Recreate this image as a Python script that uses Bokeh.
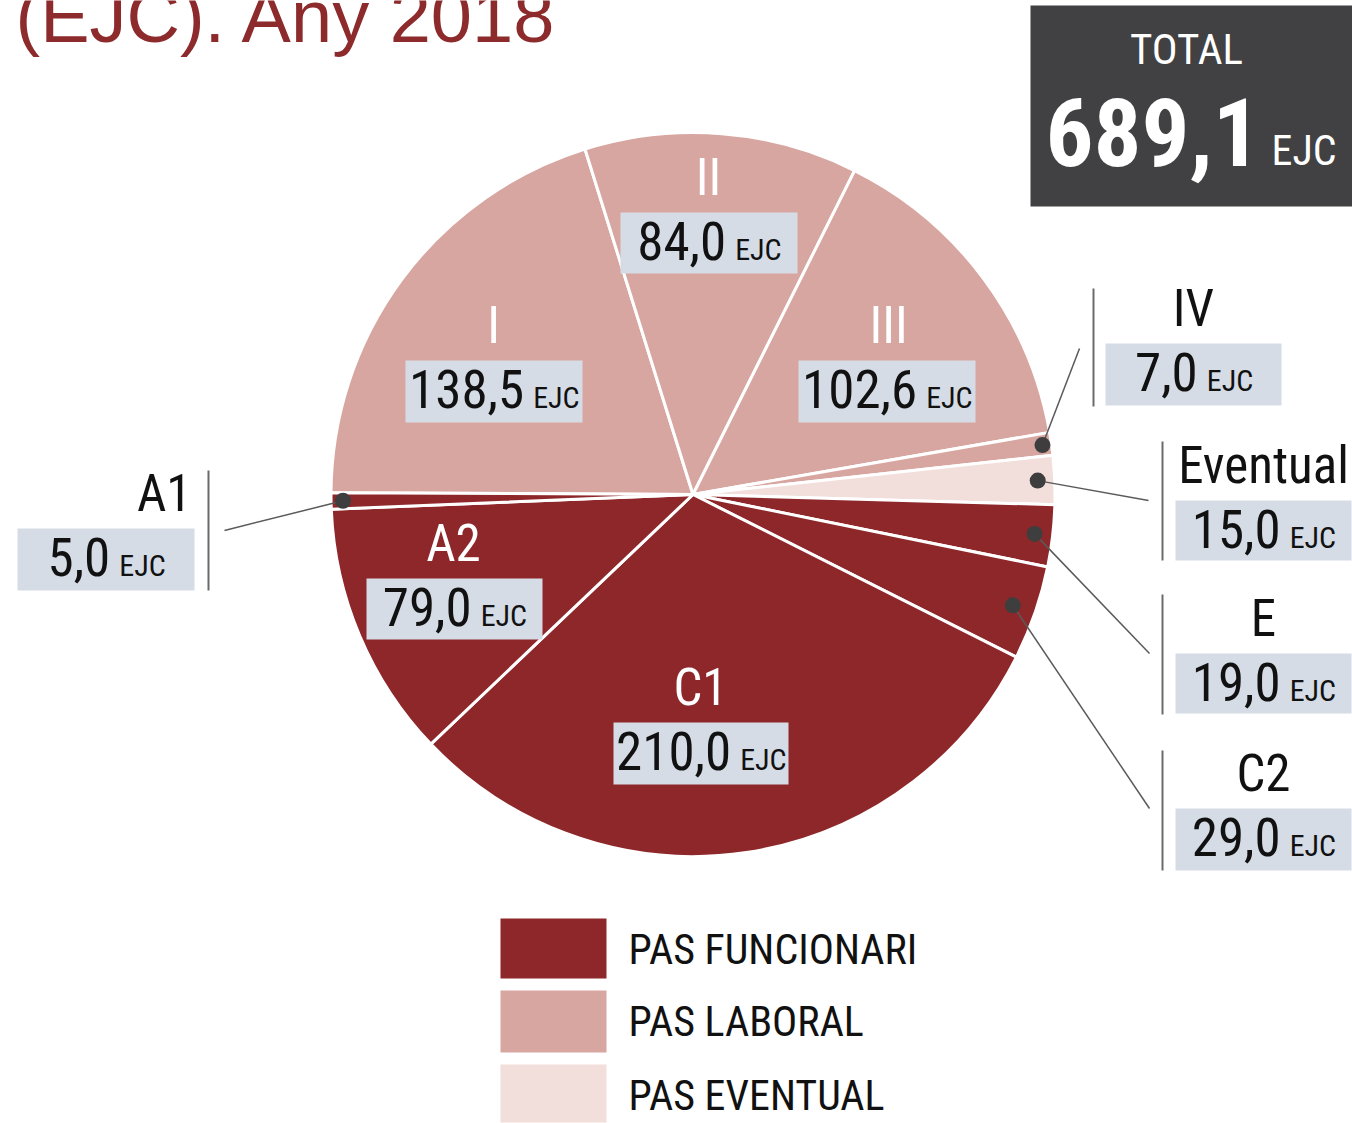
import math
from bokeh.plotting import figure
from bokeh.models import Range1d, ColumnDataSource
from bokeh.core.properties import value
from bokeh.embed import file_html
from bokeh.resources import INLINE

# ---------------- data ----------------
title_text = "(EJC). Any 2018"
categories = ["I", "II", "III", "IV", "Eventual", "E", "C2", "C1", "A2", "A1"]
values_ejc = [138.5, 84.0, 102.6, 7.0, 15.0, 19.0, 29.0, 210.0, 79.0, 5.0]
groups = ["LABORAL", "LABORAL", "LABORAL", "LABORAL", "EVENTUAL",
          "FUNCIONARI", "FUNCIONARI", "FUNCIONARI", "FUNCIONARI", "FUNCIONARI"]
legend_groups = ["FUNCIONARI", "LABORAL", "EVENTUAL"]
legend_labels = ["PAS FUNCIONARI", "PAS LABORAL", "PAS EVENTUAL"]
unit = "EJC"

group_colors = {"FUNCIONARI": "#8E2729", "LABORAL": "#D8A6A1", "EVENTUAL": "#F2DFDC"}
BOX = "#D5DCE5"
COND = "Roboto Condensed"
COND_DESC = 0.235   # descent (em) used to place alphabetic baselines
SANS_DESC = 0.212

W, H = 1352, 1123


def Y(s):
    return H - s


def fmt(v):
    return f"{v:.1f}".replace(".", ",")


p = figure(width=W, height=H, output_backend="svg", toolbar_location=None,
           x_range=Range1d(0, W), y_range=Range1d(0, H),
           x_axis_location=None, y_axis_location=None, min_border=0)
p.grid.visible = False
p.outline_line_color = None
p.background_fill_color = "white"
p.border_fill_color = "white"


def txt(x, base, s, size, color="#111111", align="left", font=COND,
        desc=COND_DESC, style="normal"):
    if "," in s:
        desc = 0.0
    p.text(x=[x], y=[Y(base + desc * size)], text=[s], text_font=value(font),
           text_font_size=f"{size}px", text_color=color, text_align=align,
           text_baseline="bottom", text_font_style=style)


# ---------------- title ----------------
txt(15, 42, title_text, 74, color="#8C2A2C", font="Liberation Sans",
    desc=SANS_DESC)

# ---------------- pie ----------------
total = sum(values_ejc)
CX, CY, R = 692.5, Y(494), 362
theta0 = math.radians(179.72)
starts, ends, mids = [], [], []
cum = 0.0
for v in values_ejc:
    span = v / total * 2 * math.pi
    e = theta0 - cum
    s = e - span
    starts.append(s)
    ends.append(e)
    mids.append((s + e) / 2)
    cum += span

src = ColumnDataSource(dict(start=starts, end=ends,
                            color=[group_colors[g] for g in groups]))
p.wedge(x=CX, y=CY, radius=R, start_angle="start", end_angle="end",
        fill_color="color", line_color="white", line_width=3, source=src)

# ---------------- labels ----------------
# name_x, align, name_color, box(l, r, top, bottom)
layout = {
    "I":        (493, "center", "white", (405, 582, 360, 422)),
    "II":       (708, "center", "white", (620, 797, 212, 273)),
    "III":      (888, "center", "white", (798, 975, 360, 422)),
    "A2":       (453, "center", "white", (366, 542, 578, 639)),
    "C1":       (700, "center", "white", (613, 788, 722, 784)),
    "IV":       (1193, "center", "#111111", (1105, 1281, 343, 405)),
    "Eventual": (1263, "center", "#111111", (1175, 1351, 500, 560)),
    "E":        (1263, "center", "#111111", (1175, 1351, 653, 713)),
    "C2":       (1263, "center", "#111111", (1175, 1351, 808, 870)),
    "A1":       (191, "right", "#111111", (17, 194, 528, 590)),
}
NAME_SIZE, NUM_SIZE, UNIT_SIZE = 51, 53, 30


def est_w(s, size):
    w = 0.0
    for ch in s:
        w += 0.17 if ch in ",." else 0.49
    return w * size


for cat, v in zip(categories, values_ejc):
    nx, al, nc, (bl, br, bt, bb) = layout[cat]
    txt(nx, bt - 17, cat, NAME_SIZE, color=nc, align=al)
    p.quad(left=[bl], right=[br], top=[Y(bt)], bottom=[Y(bb)],
           fill_color=BOX, line_color=None)
    num = fmt(v)
    wn = est_w(num, NUM_SIZE)
    we = 1.45 * UNIT_SIZE
    gap = 9
    left = (bl + br) / 2 - (wn + gap + we) / 2
    split = left + wn
    txt(split, bt + 47, num, NUM_SIZE, align="right")
    txt(split + gap, bt + 47, unit, UNIT_SIZE, align="left")

# separators next to outside labels
sep = {"IV": (1093, 288, 406), "Eventual": (1162, 441, 560),
       "E": (1162, 594, 714), "C2": (1162, 750, 870), "A1": (208, 470, 590)}
p.segment(x0=[s[0] for s in sep.values()], y0=[Y(s[1]) for s in sep.values()],
          x1=[s[0] for s in sep.values()], y1=[Y(s[2]) for s in sep.values()],
          line_color="#6A6A6A", line_width=2)

# leader lines and dots (dot radius as fraction of pie radius)
anchor = {"IV": (1079, 348, 0.975), "Eventual": (1148, 500, 0.953),
          "E": (1149, 653, 0.95), "C2": (1149, 808, 0.935),
          "A1": (224, 530, 0.967)}
dx, dy, ax, ay = [], [], [], []
for cat, m in zip(categories, mids):
    if cat in anchor:
        rr = anchor[cat][2] * R
        dx.append(CX + rr * math.cos(m))
        dy.append(CY + rr * math.sin(m))
        ax.append(anchor[cat][0])
        ay.append(Y(anchor[cat][1]))
p.segment(x0=dx, y0=dy, x1=ax, y1=ay, line_color="#5A5A5A", line_width=1.5)
p.scatter(x=dx, y=dy, size=16, fill_color="#3E3E3E", line_color=None)

# ---------------- total box ----------------
p.quad(left=[1030], right=[1352], top=[Y(5)], bottom=[Y(206)],
       fill_color="#414042", line_color=None)
txt(1186, 63, "TOTAL", 43, color="white", align="center")
txt(1045, 165, fmt(total), 95, color="white", style="bold")
txt(1271, 165, unit, 42, color="white")

# ---------------- legend ----------------
leg_rows = [(918, 978, 964), (990, 1052, 1036), (1064, 1122, 1110)]
for g, lab, (t, b, base) in zip(legend_groups, legend_labels, leg_rows):
    p.quad(left=[500], right=[606], top=[Y(t)], bottom=[Y(b)],
           fill_color=group_colors[g], line_color=None)
    txt(628, base, lab, 42)

open("out.html", "w").write(file_html(p, INLINE))
